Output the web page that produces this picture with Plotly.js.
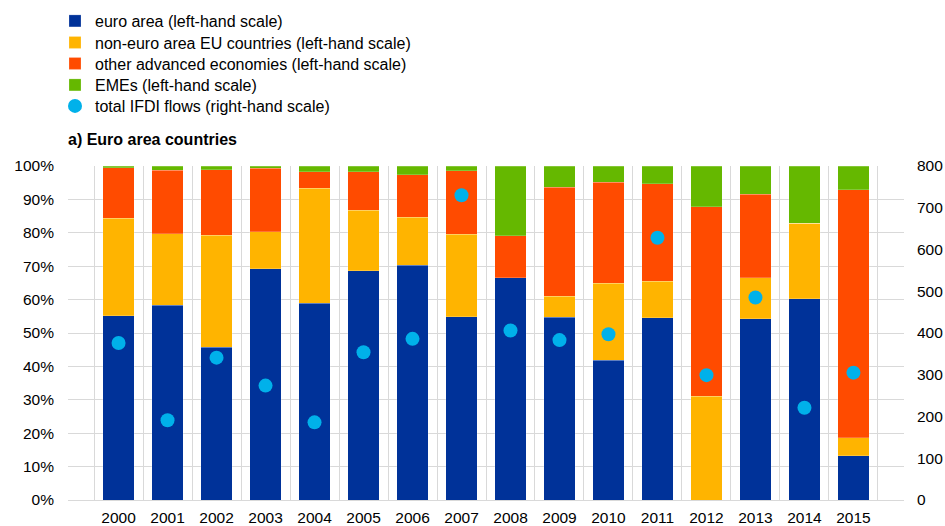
<!DOCTYPE html>
<html><head><meta charset="utf-8">
<script src="https://cdn.plot.ly/plotly-3.0.1.min.js"></script>
<style>html,body{margin:0;padding:0;background:#fff}#c{width:945px;height:526px}</style>
</head><body><div id="c"></div>
<script>
const years = ['2000','2001','2002','2003','2004','2005','2006','2007','2008','2009','2010','2011','2012','2013','2014','2015'];
const euroArea = [55.1,58.3,45.8,69.2,58.9,68.7,70.3,54.9,66.6,54.7,41.8,54.5,0,54.3,60.2,13.2];
const nonEuroEU = [29.2,21.4,33.4,11.1,34.5,18.1,14.4,24.7,0,6.3,23.1,11.0,31.0,12.2,22.6,5.4];
const otherAdv = [15.2,19.1,19.7,19.1,4.9,11.5,12.7,19.0,12.5,32.7,30.3,29.2,56.8,25.1,0,74.3];
const emes = [0.5,1.2,1.1,0.6,1.7,1.7,2.6,1.4,20.9,6.3,4.8,5.3,12.2,8.4,17.2,7.1];
const totalIFDI = [376,191,341,274,186,354,386,730,406,383,397,628,299,485,221,305];

const fam = 'Liberation Sans, Arial, sans-serif';
const font = {family:fam, size:16, color:'#000'};
const tickFont = {family:fam, size:15.5, color:'#000'};
const barLine = {width:0.6, color:'rgba(255,255,255,0.35)'};
const traces = [
 {type:'bar', x:years, y:euroArea, name:'euro area (left-hand scale)', legend:'legend', marker:{color:'#003299', line:barLine}},
 {type:'bar', x:years, y:nonEuroEU, name:'non-euro area EU countries (left-hand scale)', legend:'legend2', marker:{color:'#FFB400', line:barLine}},
 {type:'bar', x:years, y:otherAdv, name:'other advanced economies (left-hand scale)', legend:'legend3', marker:{color:'#FF4B00', line:barLine}},
 {type:'bar', x:years, y:emes, name:'EMEs (left-hand scale)', legend:'legend4', marker:{color:'#65B800', line:barLine}},
 {type:'scatter', mode:'markers', x:years, y:totalIFDI, yaxis:'y2', name:'total IFDI flows (right-hand scale)', legend:'legend5', marker:{color:'#00B1EA', size:14}}
];
const itemY = [21, 42.5, 63.5, 85, 106];
function leg(py){return {xref:'container', yref:'container', x:55/945, xanchor:'left', y:1-py/526, yanchor:'middle', font:font, bgcolor:'rgba(0,0,0,0)', itemclick:false};}
const layout = {
 width:945, height:526,
 margin:{l:68, r:41, t:166, b:26, autoexpand:false},
 barmode:'stack', bargap:0.35,
 font:font,
 paper_bgcolor:'#fff', plot_bgcolor:'#fff',
 showlegend:true,
 legend:leg(itemY[0]), legend2:leg(itemY[1]), legend3:leg(itemY[2]), legend4:leg(itemY[3]), legend5:leg(itemY[4]),
 xaxis:{type:'category', tickson:'boundaries', tickangle:0, showgrid:true, gridcolor:'#d9d9d9', gridwidth:1, ticks:'', tickfont:tickFont, showline:false, automargin:false, ticklabelstandoff:6},
 yaxis:{range:[0,100], dtick:10, ticksuffix:'%', showgrid:true, gridcolor:'#d9d9d9', zeroline:true, zerolinecolor:'#d9d9d9', tickfont:tickFont, ticks:'', automargin:false, ticklabelstandoff:13},
 yaxis2:{range:[0,800], dtick:100, overlaying:'y', side:'right', showgrid:false, zeroline:false, tickfont:tickFont, ticks:'', automargin:false, ticklabelstandoff:12},
 annotations:[{text:'<b>a) Euro area countries</b>', xref:'paper', yref:'paper', x:0, xanchor:'left', xshift:-2, y:1.0, yshift:27, yanchor:'middle', showarrow:false, font:{family:fam, size:16, color:'#000'}}]
};
Plotly.newPlot('c', traces, layout, {displayModeBar:false, staticPlot:true});
</script></body></html>
